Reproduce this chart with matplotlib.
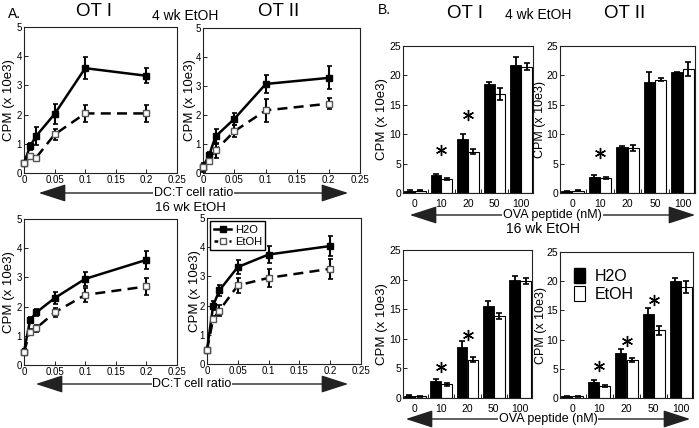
import numpy as np
import matplotlib
matplotlib.use("Agg")
import matplotlib.pyplot as plt
from matplotlib.patches import Patch, FancyArrowPatch
from matplotlib.lines import Line2D

plt.rcParams.update({"font.family": ["Liberation Sans", "DejaVu Sans"],
                     "axes.linewidth": 0.8, "axes.edgecolor": "#222"})
W, H = 699, 428

# ---- panel A: DC:T cell ratio curves ----
ratio = [0, 0.01, 0.02, 0.05, 0.1, 0.2]
a_h2o = {"4_OT1": [0.34, 0.92, 1.27, 2.02, 3.59, 3.33],
         "4_OT2": [0.20, 0.63, 1.26, 1.87, 3.07, 3.28],
         "16_OT1": [0.46, 1.54, 1.80, 2.29, 2.95, 3.60],
         "16_OT2": [0.48, 2.00, 2.52, 3.32, 3.75, 4.04]}
a_h2o_err = {"4_OT1": [0.05, 0.12, 0.30, 0.35, 0.38, 0.25],
             "4_OT2": [0.15, 0.10, 0.25, 0.20, 0.30, 0.40],
             "16_OT1": [0.10, 0.10, 0.12, 0.20, 0.25, 0.30],
             "16_OT2": [0.05, 0.15, 0.20, 0.25, 0.30, 0.35]}
a_etoh = {"4_OT1": [0.34, 0.57, 0.53, 1.32, 2.04, 2.04],
          "4_OT2": [0.20, 0.41, 0.78, 1.44, 2.16, 2.39],
          "16_OT1": [0.46, 1.14, 1.26, 1.80, 2.40, 2.69],
          "16_OT2": [0.48, 1.54, 1.83, 2.69, 2.95, 3.26]}
a_etoh_err = {"4_OT1": [0.05, 0.05, 0.05, 0.18, 0.28, 0.30],
              "4_OT2": [0.10, 0.10, 0.25, 0.20, 0.40, 0.20],
              "16_OT1": [0.10, 0.08, 0.12, 0.15, 0.25, 0.28],
              "16_OT2": [0.05, 0.10, 0.20, 0.25, 0.30, 0.35]}

# ---- panel B: OVA peptide bars ----
ova = ["0", "10", "20", "50", "100"]
b_h2o = {"4_OT1": [0.3, 3.0, 9.1, 18.5, 21.8],
         "4_OT2": [0.3, 2.8, 7.8, 18.9, 20.5],
         "16_OT1": [0.4, 2.8, 8.6, 15.6, 20.0],
         "16_OT2": [0.3, 2.8, 7.7, 14.4, 20.0]}
b_h2o_err = {"4_OT1": [0.15, 0.2, 1.0, 0.3, 1.3],
             "4_OT2": [0.1, 0.2, 0.2, 1.6, 0.1],
             "16_OT1": [0.1, 0.4, 1.0, 0.8, 0.6],
             "16_OT2": [0.1, 0.2, 0.7, 1.0, 0.6]}
b_etoh = {"4_OT1": [0.4, 2.4, 7.0, 16.8, 21.5],
          "4_OT2": [0.4, 2.5, 7.6, 19.3, 21.1],
          "16_OT1": [0.3, 2.3, 6.5, 13.8, 19.7],
          "16_OT2": [0.3, 2.1, 6.5, 11.6, 19.0]}
b_etoh_err = {"4_OT1": [0.1, 0.2, 0.4, 1.0, 0.6],
              "4_OT2": [0.1, 0.2, 0.5, 0.3, 1.2],
              "16_OT1": [0.1, 0.2, 0.4, 0.5, 0.5],
              "16_OT2": [0.1, 0.2, 0.4, 0.8, 1.0]}
star_x = {"4_OT1": [1, 2], "4_OT2": [1], "16_OT1": [1, 2], "16_OT2": [1, 2, 3]}
star_y = {"4_OT1": [7.3, 13.3], "4_OT2": [6.8], "16_OT1": [5.3, 10.6], "16_OT2": [5.5, 9.7, 16.8]}

fig = plt.figure(figsize=(W/100, H/100), dpi=100)

def px_axes(l, t, r, b):
    return fig.add_axes([l/W, 1-b/H, (r-l)/W, (b-t)/H])

def ftext(x, y, s, **kw):
    fig.text(x/W, 1-y/H, s, ha="center", va="center", **kw)

def farrow(x1, x2, y, label, fs):
    fig.patches.append(FancyArrowPatch(
        (x1/W, 1-y/H), (x2/W, 1-y/H), transform=fig.transFigure,
        arrowstyle="<|-|>,head_length=1.7,head_width=0.55", mutation_scale=10,
        lw=1.0, color="#222"))
    ftext((x1+x2)/2, y, label, fontsize=fs, zorder=5,
          bbox=dict(fc="white", ec="none", pad=0.5))

a_boxes = {"4_OT1": (24, 27, 177, 173), "4_OT2": (203, 28, 360, 173),
           "16_OT1": (24, 219, 177, 365), "16_OT2": (207, 218, 361, 364)}
a_lab = {"4_OT1": -0.06, "4_OT2": -0.045, "16_OT1": -0.06, "16_OT2": -0.04}
for key, box in a_boxes.items():
    ax = px_axes(*box)
    for art in (
        ax.errorbar(ratio, a_h2o[key], yerr=a_h2o_err[key], color="black", lw=1.8,
                    marker="s", ms=4.5, mfc="black", mec="black", elinewidth=1.5,
                    capsize=1.8, capthick=1.2, zorder=3),
        ax.errorbar(ratio, a_etoh[key], yerr=a_etoh_err[key], color="black", lw=1.8,
                    ls=(0, (4, 2.5)), marker="s", ms=4.2, mfc="white", mec="#555",
                    elinewidth=1.5, capsize=1.8, capthick=1.2, zorder=3)):
        for ch in art.get_children():
            ch.set_clip_on(False)
    ax.set_xlim(0, 0.25); ax.set_ylim(0, 5)
    ax.set_xticks([0, 0.05, 0.1, 0.15, 0.2, 0.25])
    ax.set_xticklabels(["0", "0.05", "0.1", "0.15", "0.2", "0.25"])
    ax.set_yticks(range(6))
    ax.tick_params(direction="in", length=3, width=0.6, labelsize=7, pad=1.5)
    ax.set_ylabel("CPM (x 10e3)", fontsize=9.5)
    ax.yaxis.set_label_coords(a_lab[key], 0.5)
    if key == "16_OT2":
        hs = [Line2D([0], [0], color="black", lw=1.8, marker="s", ms=4.5),
              Line2D([0], [0], color="black", lw=1.8, ls=(0, (1.5, 1.5)), marker="s",
                     ms=4.2, mfc="white", mec="#555")]
        ax.legend(hs, ["H2O", "EtOH"], loc="upper left", fontsize=8, fancybox=False,
                  edgecolor="black", framealpha=1, handlelength=1.6, handletextpad=0.3,
                  borderpad=0.3, labelspacing=0.2, borderaxespad=0.3)

b_boxes = {"4_OT1": (403, 46, 533, 193), "4_OT2": (560, 46, 695, 193),
           "16_OT1": (403, 250, 532, 398), "16_OT2": (560, 252, 693, 398)}
b_lab = {"4_OT1": -0.115, "4_OT2": -0.1, "16_OT1": -0.115, "16_OT2": -0.1}
bw = 0.41
for key, box in b_boxes.items():
    ax = px_axes(*box)
    pos = np.arange(len(ova))
    ax.bar(pos - bw/2, b_h2o[key], bw, color="black", edgecolor="black", lw=0.6,
           yerr=b_h2o_err[key], error_kw=dict(ecolor="black", elinewidth=1.3, capsize=2, capthick=1.2))
    ax.bar(pos + bw/2, b_etoh[key], bw, color="white", edgecolor="black", lw=0.8,
           yerr=b_etoh_err[key], error_kw=dict(ecolor="black", elinewidth=1.3, capsize=2, capthick=1.2))
    ax.plot(star_x[key], star_y[key], ls="none", marker=(6, 2, 0), ms=8, mew=1.0, color="black")
    ax.set_xlim(-bw - 0.04, len(ova) - 1 + bw + 0.04); ax.set_ylim(0, 25)
    ax.set_xticks(pos); ax.set_xticklabels(ova)
    ax.set_xticks(pos[:-1] + 0.5, minor=True)
    ax.set_yticks([0, 5, 10, 15, 20, 25])
    ax.tick_params(axis="x", which="major", length=0, labelsize=7.5, pad=4)
    ax.tick_params(axis="x", which="minor", direction="in", length=3, width=0.6)
    ax.tick_params(axis="y", direction="in", length=3, width=0.6, labelsize=7.5, pad=1.5)
    ax.set_ylabel("CPM (x 10e3)", fontsize=9.5 if key.endswith("OT1") else 9)
    ax.yaxis.set_label_coords(b_lab[key], 0.5)
    if key == "16_OT2":
        hs = [Patch(fc="black", ec="black"), Patch(fc="white", ec="black", lw=0.8)]
        ax.legend(hs, ["H2O", "EtOH"], loc="upper left", fontsize=11.5, frameon=False,
                  handlelength=0.7, handleheight=1.1, handletextpad=0.6,
                  labelspacing=0.15, borderaxespad=0.3, bbox_to_anchor=(0.02, 0.97))

# titles and labels
ftext(14, 14, "A.", fontsize=10)
ftext(94, 12, "OT I", fontsize=13.5)
ftext(279, 11, "OT II", fontsize=13.5)
ftext(185, 16, "4 wk EtOH", fontsize=10)
ftext(190, 208, "16 wk EtOH", fontsize=9.5)
farrow(36, 351, 193, "DC:T cell ratio", 9)
farrow(33, 351, 384, "DC:T cell ratio", 9)

ftext(384, 10, "B.", fontsize=10)
ftext(465, 13, "OT I", fontsize=13.5)
ftext(625, 13, "OT II", fontsize=13.5)
ftext(538, 15, "4 wk EtOH", fontsize=10)
ftext(543, 229, "16 wk EtOH", fontsize=10)
farrow(407, 698, 215, "OVA peptide (nM)", 9)
farrow(403, 693, 419, "OVA peptide (nM)", 9)

fig.savefig("out.png", dpi=100)
